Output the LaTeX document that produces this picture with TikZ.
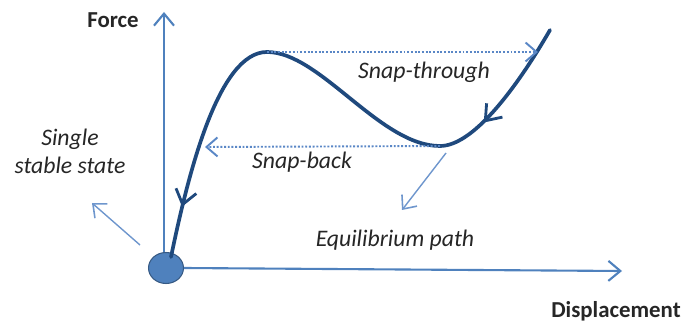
\documentclass[tikz,border=0pt]{standalone}
\usepackage{fontspec}
\setmainfont{Carlito}
\usepackage{tikz}
\usetikzlibrary{arrows.meta,decorations.markings,shapes.geometric}
\definecolor{axisblue}{RGB}{79,129,189}
\definecolor{pathblue}{RGB}{31,73,125}
\definecolor{ptrblue}{RGB}{110,150,205}
\definecolor{dotblue}{RGB}{90,135,198}
\tikzset{
  axisline/.style={line width=1.2pt, axisblue, -{Straight Barb[length=2.4mm,width=4mm,line width=1.2pt]}},
  eqpath/.style={line width=2.1pt, pathblue, line cap=round},
  pathtip/.style={postaction={decorate, decoration={markings,
      mark=at position #1 with {\arrow{Straight Barb[reversed,length=2.8mm,width=4.2mm,line width=1.6pt]}}}}},
  snapline/.style={line width=1.1pt, dotblue, densely dotted,
      -{Straight Barb[length=2.2mm,width=3.8mm,line width=1.1pt]}},
  pointer/.style={line width=0.8pt, ptrblue, -{Straight Barb[length=2.2mm,width=3.8mm,line width=0.9pt]}},
  lbl/.style={font=\fontsize{13.5}{16}\selectfont\itshape, text=black!85, inner sep=0pt},
  axlbl/.style={font=\fontsize{13}{15}\selectfont\bfseries, text=black!85, inner sep=0pt},
}
\begin{document}
\begin{tikzpicture}[x=0.02cm, y=-0.02cm]
  \useasboundingbox (0,0) rectangle (688,327);
  % axes
  \node[ellipse, draw=axisblue!70!black, fill=axisblue, line width=0.6pt,
        minimum width=0.7cm, minimum height=0.62cm, inner sep=0pt] (origin) at (166,268) {};
  \coordinate (ytop) at (164,12);
  \coordinate (xend) at (622,271);
  \draw[axisline] (164,252) -- (ytop);
  \draw[axisline] (origin.east) -- (xend);
  \node[axlbl] (force) at (113,20) {Force};
  \node[axlbl] (displ) at (616,311) {Displacement};
  % equilibrium path
  \coordinate (start) at (171,257);
  \coordinate (peak) at (267,52);
  \coordinate (trough) at (440,146);
  \coordinate (top) at (550,30);
  \draw[eqpath, pathtip=0.115, pathtip=0.84] (start)
     .. controls (188,175) and (218,52) .. (peak)
     .. controls (320,52) and (380,146) .. (trough)
     .. controls (475,146) and (520,82) .. (top);
  % snaps
  \coordinate (stend) at (538,52);
  \coordinate (sbend) at (205,147);
  \draw[snapline] (peak) -- (stend);
  \draw[snapline] (trough) -- (sbend);
  \node[lbl] (snapthrough) at (424,72) {Snap-through};
  \node[lbl] (snapback) at (302,162) {Snap-back};
  % pointers
  \node[lbl] (equil) at (395,240) {Equilibrium path};
  \node[lbl, align=center] (single) at (70,151) {Single\\stable state};
  \coordinate (eqfrom) at (446,153);
  \coordinate (eqto) at (402,210);
  \draw[pointer] (eqfrom) -- (eqto);
  \coordinate (sgfrom) at (140,245);
  \coordinate (sgto) at (92,203);
  \draw[pointer] (sgfrom) -- (sgto);
\end{tikzpicture}
\end{document}
